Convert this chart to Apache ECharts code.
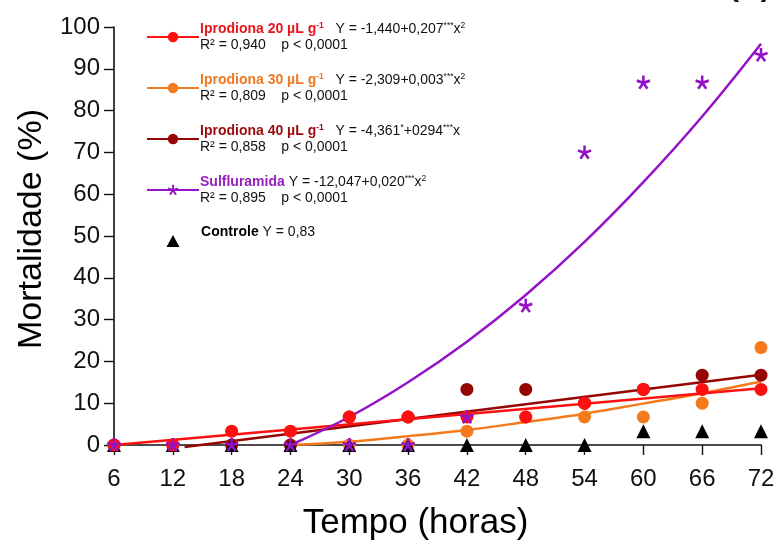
<!DOCTYPE html>
<html>
<head>
<meta charset="utf-8">
<script src="https://cdn.jsdelivr.net/npm/echarts@6/dist/echarts.min.js"></script>
<style>
html,body{margin:0;padding:0;background:#fff;}
#chart{width:783px;height:546px;}
</style>
</head>
<body>
<div id="chart"></div>
<script>
// ---- data ----
const hours = [6, 12, 18, 24, 30, 36, 42, 48, 54, 60, 66, 72];
const xTicks = [6, 12, 18, 24, 30, 36, 42, 48, 54, 60, 66, 72];
const yTicks = [0, 10, 20, 30, 40, 50, 60, 70, 80, 90, 100];

const ipro20 = [0, 0, 3.3, 3.3, 6.7, 6.7, 6.7, 6.7, 10, 13.3, 13.3, 13.3];
const ipro30 = [0, 0, 0, 0, 0, 0, 3.3, 6.7, 6.7, 6.7, 10, 23.3];
const ipro40 = [0, 0, 0, 0, 6.7, 6.7, 13.3, 13.3, 10, 13.3, 16.7, 16.7];
const sulflu = [0, 0, 0, 0, 0, 0, 6.7, 33.3, 70, 86.7, 86.7, 93.3];
const controle = [0, 0, 0, 0, 0, 0, 0, 0, 0, 3.3, 3.3, 3.3];

// fitted curves
const fit20X = [6, 72];
const fit20Y = [0, 13.6];
const fit30X = [24, 30, 36, 42, 48, 54, 60, 66, 72];
const fit30Y = [0, 0.8, 2.1, 3.6, 5.5, 7.5, 9.9, 12.4, 15.2];
const fit40X = [13.2, 72];
const fit40Y = [-0.5, 16.8];
const fitSulX = [24, 30, 36, 42, 48, 54, 60, 66, 72];
const fitSulY = [0, 6.7, 15, 24.7, 35.9, 48.6, 62.9, 78.6, 96];

const names = ['Iprodiona 20', 'Iprodiona 30', 'Iprodiona 40', 'Sulfluramida', 'Controle'];
const legendTexts = {
  'Iprodiona 20': '{n1|Iprodiona 20 µL g}{u1|-1}{e|   Y = -1,440+0,207}{s|***}{e|x}{s|2}\n{e|R² = 0,940    p < 0,0001}',
  'Iprodiona 30': '{n2|Iprodiona 30 µL g}{u2|-1}{e|   Y = -2,309+0,003}{s|***}{e|x}{s|2}\n{e|R² = 0,809    p < 0,0001}',
  'Iprodiona 40': '{n3|Iprodiona 40 µL g}{u3|-1}{e|   Y = -4,361}{s|*}{e|+0294}{s|***}{e|x}\n{e|R² = 0,858    p < 0,0001}',
  'Sulfluramida': '{n4|Sulfluramida}{e| Y = -12,047+0,020}{s|***}{e|x}{s|2}\n{e|R² = 0,895    p < 0,0001}',
  'Controle': '{sp| }{n5t|Controle}{et| Y = 0,83}'
};

// ---- styles ----
const FONT = "'Liberation Sans', Arial, sans-serif";
const cRed = '#ff1010';
const cOrange = '#f57a1c';
const cDark = '#960404';
const cPurple = '#9412c8';
const cBlack = '#000000';
const colors = [cRed, cOrange, cDark, cPurple, cBlack];
const txtColors = ['#e8141c', '#f07820', '#9a0a0e', '#9420c0', '#000000'];
const asterisk = 'path://M1.1,0L1.1,-6L-1.1,-6L-1.1,0Z M0.34,1.046L6.046,-0.808L5.366,-2.9L-0.34,-1.046Z M-0.89,0.647L2.637,5.501L4.417,4.207L0.89,-0.647Z M-0.89,-0.647L-4.417,4.207L-2.637,5.501L0.89,0.647Z M0.34,-1.046L-5.366,-2.9L-6.046,-0.808L-0.34,1.046Z';
const triIcon = 'path://M0,0L0.01,0Z M52,13L51.99,13Z M26,0.5L32.5,12.5L19.5,12.5Z';

const rich = {
  e: { fontSize: 14, lineHeight: 16, color: '#111', fontFamily: FONT },
  s: { fontSize: 8.5, lineHeight: 9, color: '#111', verticalAlign: 'top', fontFamily: FONT },
  sp: { fontSize: 4, lineHeight: 32, fontFamily: FONT },
  et: { fontSize: 14, lineHeight: 18, color: '#111', verticalAlign: 'top', fontFamily: FONT },
  n5t: { fontSize: 14, lineHeight: 18, fontWeight: 'bold', color: '#000', verticalAlign: 'top', fontFamily: FONT }
};
colors.forEach(function (c, i) {
  rich['n' + (i + 1)] = { fontSize: 14, lineHeight: 16, fontWeight: 'bold', color: txtColors[i], fontFamily: FONT };
  rich['u' + (i + 1)] = { fontSize: 8.5, lineHeight: 9, fontWeight: 'bold', color: txtColors[i], verticalAlign: 'top', fontFamily: FONT };
});

function pairs(xs, ys) { return xs.map(function (x, i) { return [x, ys[i]]; }); }

function fitLine(name, xs, ys, color, symbol, smooth) {
  return {
    name: name, type: 'line', data: pairs(xs, ys), smooth: smooth ? 0.4 : false,
    showSymbol: false, symbol: symbol, symbolSize: 12, clip: false, z: 2,
    lineStyle: { color: color, width: 2.5 }, itemStyle: { color: color }
  };
}
function points(name, ys, color, symbol, size) {
  return {
    name: name, type: 'scatter', data: pairs(hours, ys), symbol: symbol, symbolSize: size,
    clip: false, z: 3, itemStyle: { color: color, opacity: 1 }
  };
}

const chart = echarts.init(document.getElementById('chart'), null, { renderer: 'canvas' });
chart.setOption({
  animation: false,
  backgroundColor: '#ffffff',
  textStyle: { fontFamily: FONT },
  grid: { left: 114, right: 22, top: 27, bottom: 99, containLabel: false },
  xAxis: {
    type: 'value', min: 6, max: 72, interval: 6,
    name: 'Tempo (horas)', nameLocation: 'middle', nameGap: 61,
    nameTextStyle: { fontSize: 35, color: '#000', fontFamily: FONT, padding: [0, 44, 0, 0] },
    axisLine: { show: true, onZero: false, lineStyle: { color: '#111', width: 1.6 } },
    axisTick: { show: true, length: 10, inside: false, lineStyle: { color: '#111', width: 1.4 } },
    axisLabel: { fontSize: 24, color: '#111', margin: 22, fontFamily: FONT,
      formatter: function (v) { return xTicks.indexOf(v) >= 0 ? String(v) : ''; } },
    splitLine: { show: false }
  },
  yAxis: {
    type: 'value', min: 0, max: 100, interval: 10,
    name: 'Mortalidade (%)', nameLocation: 'middle', nameGap: 64,
    nameTextStyle: { fontSize: 34, color: '#000', fontFamily: FONT, padding: [0, 0, 0, 14] },
    axisLine: { show: true, lineStyle: { color: '#111', width: 1.6 } },
    axisTick: { show: true, length: 10, inside: false, lineStyle: { color: '#111', width: 1.4 } },
    axisLabel: { fontSize: 24, color: '#111', margin: 14, fontFamily: FONT,
      formatter: function (v) { return yTicks.indexOf(v) >= 0 ? String(v) : ''; } },
    splitLine: { show: false }
  },
  legend: {
    show: true, orient: 'vertical', left: 141, top: 16,
    itemWidth: 52, itemHeight: 13, itemGap: 20, selectedMode: false,
    data: [names[0], names[1], names[2], names[3], { name: names[4], icon: triIcon }],
    formatter: function (n) { return legendTexts[n]; },
    textStyle: { rich: rich, fontFamily: FONT, padding: [0, 0, 0, -4] }
  },
  graphic: [{
    type: 'text', left: 729, top: -27,
    style: { text: '(A)', font: 'bold 30px ' + FONT, fill: '#111' }
  }],
  series: [
    fitLine('Iprodiona 30', fit30X, fit30Y, cOrange, 'circle', true),
    fitLine('Iprodiona 40', fit40X, fit40Y, cDark, 'circle', false),
    fitLine('Iprodiona 20', fit20X, fit20Y, cRed, 'circle', false),
    fitLine('Sulfluramida', fitSulX, fitSulY, cPurple, asterisk, true),
    points('pts30', ipro30, cOrange, 'circle', 13),
    points('pts40', ipro40, cDark, 'circle', 13),
    points('Controle', controle, cBlack, 'triangle', 14),
    points('pts20', ipro20, cRed, 'circle', 13),
    points('ptsSul', sulflu, cPurple, asterisk, 14)
  ]
});
</script>
</body>
</html>
